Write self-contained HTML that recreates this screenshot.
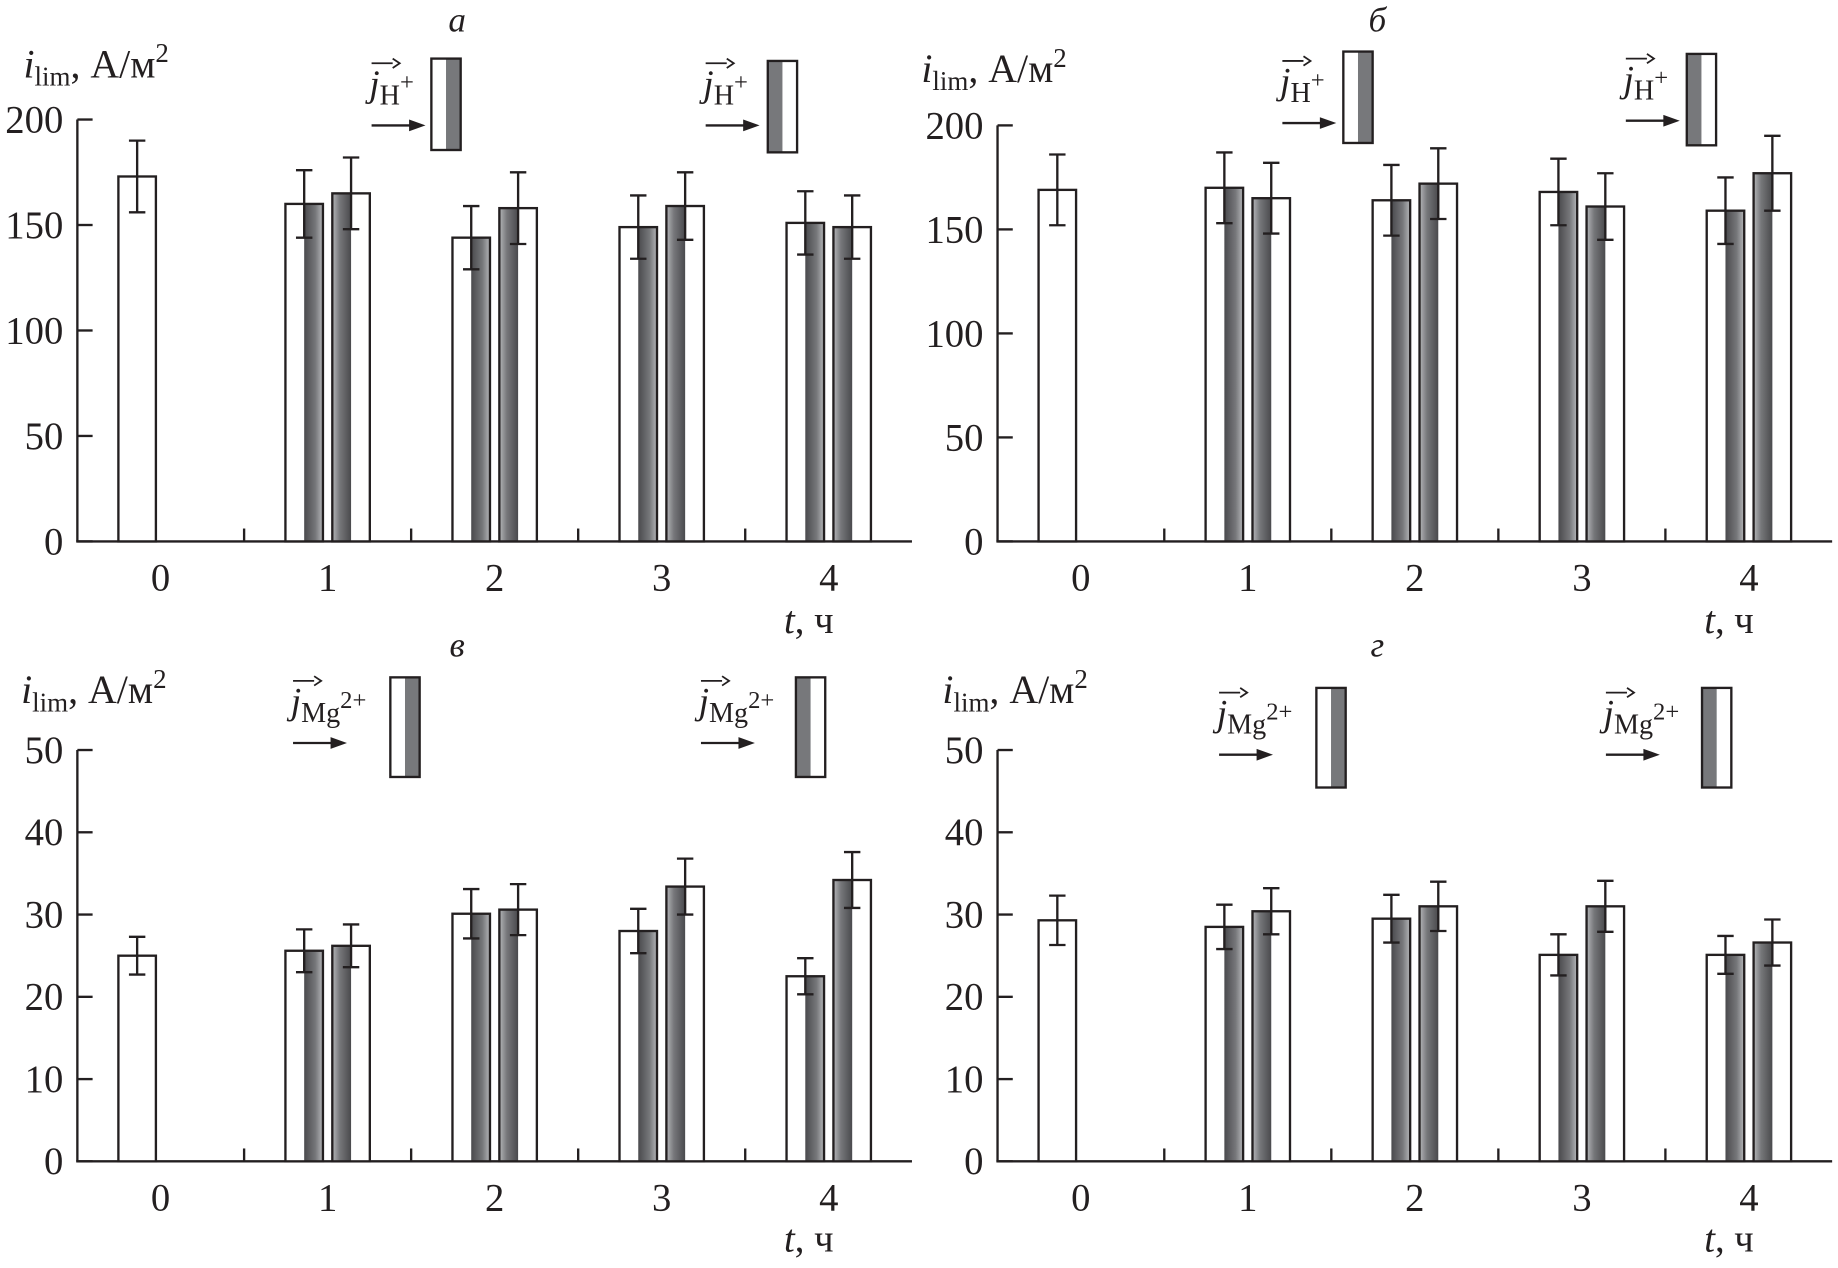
<!DOCTYPE html>
<html><head><meta charset="utf-8"><style>
html,body{margin:0;padding:0;background:#fff}
svg{display:block}
text{font-family:"Liberation Serif",serif;fill:#231f20}
</style></head><body>
<svg id="s" width="1838" height="1268" viewBox="0 0 1568 1082" preserveAspectRatio="none" xmlns="http://www.w3.org/2000/svg">
<defs>
<linearGradient id="gL" x1="0" x2="1"><stop offset="0" stop-color="#4a4a4d"/><stop offset="0.6" stop-color="#76777a"/><stop offset="1" stop-color="#b5b6b9"/></linearGradient>
<linearGradient id="gR" x1="0" x2="1"><stop offset="0" stop-color="#b5b6b9"/><stop offset="0.4" stop-color="#76777a"/><stop offset="1" stop-color="#4a4a4d"/></linearGradient>
</defs>
<g id="root"></g>
</svg>
<script>
const categories=["0","1","2","3","4"];
const aFirst=[173,160,144,149,151];
const aFirstErr=[17,16,15,15,15];
const aSecond=[null,165,158,159,149];
const aSecondErr=[null,17,17,16,15];
const bFirst=[169,170,164,168,159];
const bFirstErr=[17,17,17,16,16];
const bSecond=[null,165,172,161,177];
const bSecondErr=[null,17,17,16,18];
const cFirst=[25,25.6,30.1,28,22.5];
const cFirstErr=[2.3,2.6,3,2.7,2.2];
const cSecond=[null,26.2,30.6,33.4,34.2];
const cSecondErr=[null,2.6,3.1,3.4,3.4];
const dFirst=[29.3,28.5,29.5,25.1,25.1];
const dFirstErr=[3,2.7,2.9,2.5,2.3];
const dSecond=[null,30.4,31,31,26.6];
const dSecondErr=[null,2.8,3,3.1,2.8];
const ticksAB=[0,50,100,150,200];
const ticksCD=[0,10,20,30,40,50];

const NS="http://www.w3.org/2000/svg";
const root=document.getElementById('root');
function mk(tag,attrs,parent,txt){const e=document.createElementNS(NS,tag);for(const k in attrs)e.setAttribute(k,attrs[k]);if(txt!==undefined)e.textContent=txt;(parent||root).appendChild(e);return e;}

const panels=[
 {id:'a',ax:66,y0:462,yTop:102,max:200,ticks:ticksAB,f:aFirst,fe:aFirstErr,s:aSecond,se:aSecondErr,title:'а',tx:390,ty:27,ion:'H',sup:'+',leg:[[368,50],[655,52]],labx:[315,600],laby:[82,82],ylab:[20,66],tlab:[690,540]},
 {id:'b',ax:851,y0:462,yTop:107,max:200,ticks:ticksAB,f:bFirst,fe:bFirstErr,s:bSecond,se:bSecondErr,title:'б',tx:1175,ty:27,ion:'H',sup:'+',leg:[[1146,44],[1439,46]],labx:[1092,1385],laby:[80,78],ylab:[786,70],tlab:[1475,540]},
 {id:'c',ax:66,y0:991,yTop:640,max:50,ticks:ticksCD,f:cFirst,fe:cFirstErr,s:cSecond,se:cSecondErr,title:'в',tx:390,ty:560,ion:'Mg',sup:'2+',leg:[[333,578],[679,578]],labx:[248,596],laby:[609,609],ylab:[18,600],tlab:[690,1068]},
 {id:'d',ax:851,y0:991,yTop:640,max:50,ticks:ticksCD,f:dFirst,fe:dFirstErr,s:dSecond,se:dSecondErr,title:'г',tx:1175,ty:560,ion:'Mg',sup:'2+',leg:[[1123,587],[1452,587]],labx:[1038,1368],laby:[619,619],ylab:[804,600],tlab:[1475,1068]}
];
const step=142.5, off=71, bw=32, gap=4;
panels.forEach(p=>{
 const g=mk('g',{});
 
 
 const y=v=>p.y0-(v/p.max)*(p.y0-p.yTop);
 const cx=i=>p.ax+off+i*step;
 const xEnd=p.ax+off+4*step+off;
 const ya=mk('line',{x1:p.ax,y1:p.yTop,x2:p.ax,y2:p.y0,stroke:'#231f20','stroke-width':2},g);
 
 const xa=mk('line',{x1:p.ax-1,y1:p.y0,x2:xEnd,y2:p.y0,stroke:'#231f20','stroke-width':2},g);
 
 p.ticks.forEach(t=>{
  mk('line',{x1:p.ax,y1:y(t),x2:p.ax+13,y2:y(t),stroke:'#231f20','stroke-width':2},g);
  const tl=mk('text',{x:p.ax-12,y:y(t)+11,'font-size':33,'text-anchor':'end'},g,String(t));
  
 });
 for(let i=0;i<4;i++){const mx=cx(i)+step/2;mk('line',{x1:mx,y1:p.y0,x2:mx,y2:p.y0-11,stroke:'#231f20','stroke-width':2},g);}
 categories.forEach((c,i)=>{
  const tl=mk('text',{x:cx(i),y:p.y0+42,'font-size':33,'text-anchor':'middle'},g,c);
  
 });
 function bar(x,v,e,kind){
  const h=p.y0-y(v);
  if(kind==='white'){mk('rect',{x:x,y:y(v),width:bw,height:h,fill:'#fff',stroke:'#231f20','stroke-width':2},g);}
  else if(kind==='wl'){mk('rect',{x:x,y:y(v),width:bw,height:h,fill:'#fff'},g);mk('rect',{x:x+bw/2,y:y(v),width:bw/2,height:h,fill:'url(#gL)'},g);mk('rect',{x:x,y:y(v),width:bw,height:h,fill:'none',stroke:'#231f20','stroke-width':2},g);}
  else {mk('rect',{x:x,y:y(v),width:bw,height:h,fill:'#fff'},g);mk('rect',{x:x,y:y(v),width:bw/2,height:h,fill:'url(#gR)'},g);mk('rect',{x:x,y:y(v),width:bw,height:h,fill:'none',stroke:'#231f20','stroke-width':2},g);}
  const ex=x+bw/2;
  mk('line',{x1:ex,y1:y(v+e),x2:ex,y2:y(v-e),stroke:'#231f20','stroke-width':2},g);
  mk('line',{x1:ex-7,y1:y(v+e),x2:ex+7,y2:y(v+e),stroke:'#231f20','stroke-width':2},g);
  mk('line',{x1:ex-7,y1:y(v-e),x2:ex+7,y2:y(v-e),stroke:'#231f20','stroke-width':2},g);
 }
 categories.forEach((c,i)=>{
  if(p.s[i]===null){bar(cx(i)-bw-gap,p.f[i],p.fe[i],'white');}
  else{bar(cx(i)-bw-gap,p.f[i],p.fe[i],'wl');bar(cx(i)+gap,p.s[i],p.se[i],'wr');}
 });
 const tt=mk('text',{x:p.tx,y:p.ty,'font-size':30,'font-style':'italic','text-anchor':'middle'},g,p.title);
 
 const yl=mk('text',{x:p.ylab[0],y:p.ylab[1],'font-size':34},g);
 
 mk('tspan',{'font-style':'italic'},yl,'i');mk('tspan',{'font-size':23,dy:7},yl,'lim');mk('tspan',{dy:-7},yl,', А/м');mk('tspan',{'font-size':23,dy:-13},yl,'2');
 const xl=mk('text',{x:p.tlab[0],y:p.tlab[1],'font-size':33,'text-anchor':'middle'},g);
 
 mk('tspan',{'font-style':'italic'},xl,'t');mk('tspan',{},xl,', ч');
 p.leg.forEach((L,k)=>{
  const lg=mk('g',{},g);
  
  const w=25,h=p.id==='a'||p.id==='b'?78:85;
  mk('rect',{x:L[0],y:L[1],width:w,height:h,fill:'#fff'},lg);
  mk('rect',{x:k===0?L[0]+w/2:L[0],y:L[1],width:w/2,height:h,fill:'#77787b'},lg);
  mk('rect',{x:L[0],y:L[1],width:w,height:h,fill:'none',stroke:'#231f20','stroke-width':2},lg);
  const lx=p.labx[k],ly=p.laby[k];
  const t=mk('text',{x:lx,y:ly,'font-size':32},lg);
  mk('tspan',{'font-style':'italic'},t,'j');mk('tspan',{'font-size':24,dy:7},t,p.ion);mk('tspan',{'font-size':21,dy:-12},t,p.sup);
  mk('line',{x1:lx+2,y1:ly-28,x2:lx+20,y2:ly-28,stroke:'#231f20','stroke-width':1.5},lg);
  mk('path',{d:`M${lx+20},${ly-32} L${lx+26},${ly-28} L${lx+20},${ly-24}`,fill:'none',stroke:'#231f20','stroke-width':1.5},lg);
  mk('line',{x1:lx+2,y1:ly+25,x2:lx+38,y2:ly+25,stroke:'#231f20','stroke-width':2},lg);
  mk('path',{d:`M${lx+34},${ly+20} L${lx+48},${ly+25} L${lx+34},${ly+30}Z`,fill:'#231f20'},lg);
 });
});
</script>
</body></html>
